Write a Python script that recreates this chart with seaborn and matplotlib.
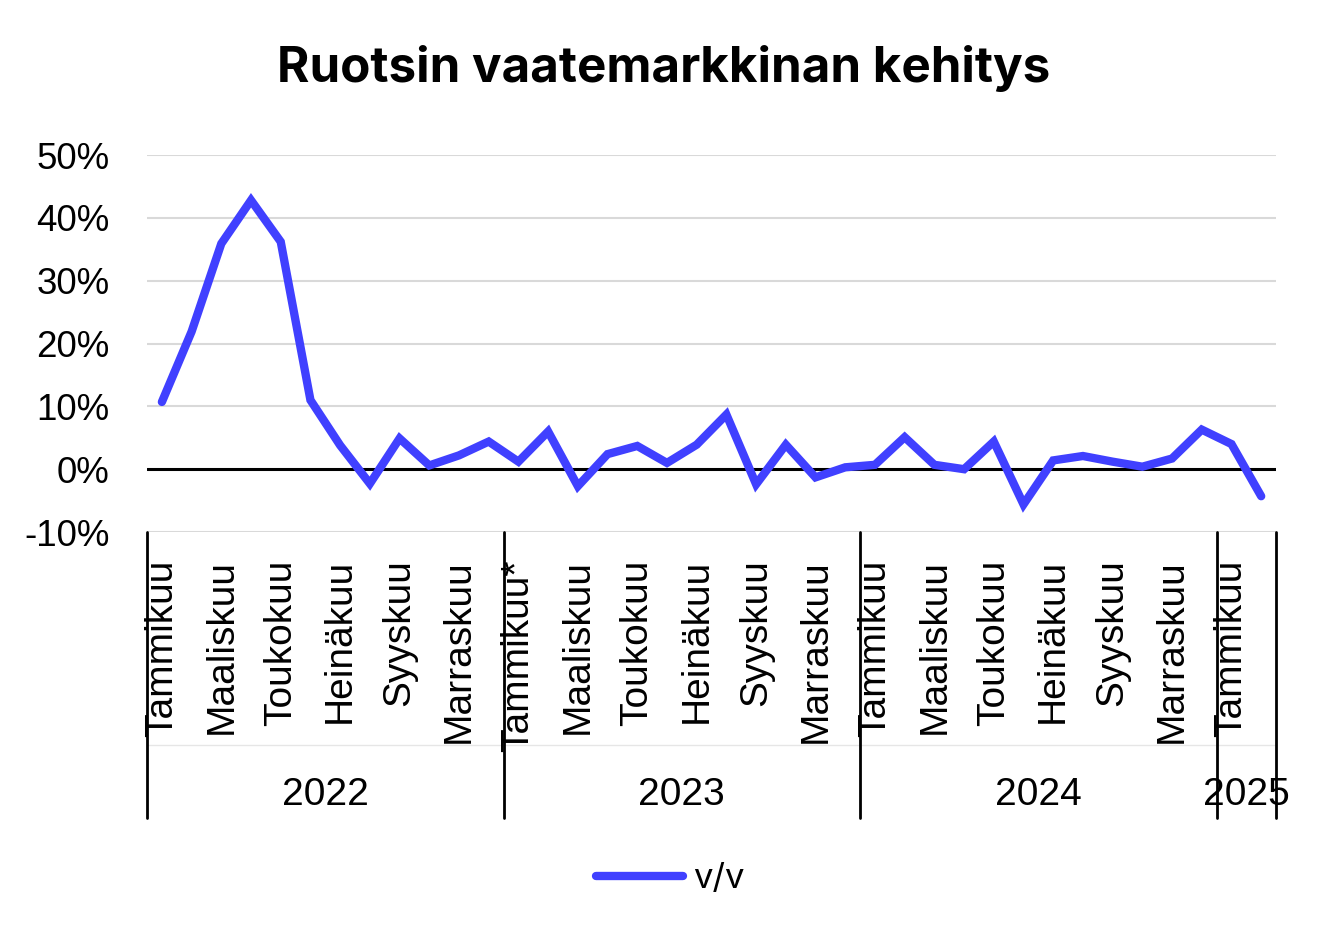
import numpy as np
import pandas as pd
import matplotlib
matplotlib.use("Agg")
import matplotlib.pyplot as plt
import matplotlib.transforms as mtransforms
import seaborn as sns

# monthly y/y change, Jan 2022 .. Feb 2025
yoy_2022 = [10.7, 21.9, 35.9, 42.8, 36.2, 11.0, 3.8, -2.3, 4.9, 0.6, 2.2, 4.4]
yoy_2023 = [1.2, 6.0, -2.7, 2.4, 3.7, 1.0, 3.9, 8.7, -2.4, 3.9, -1.3, 0.3]
yoy_2024 = [0.7, 5.1, 0.7, 0.0, 4.4, -5.6, 1.4, 2.1, 1.2, 0.4, 1.7, 6.3]
yoy_2025 = [4.0, -4.3]

years = ["2022", "2023", "2024", "2025"]
month_labels = ["Tammikuu", "", "Maaliskuu", "", "Toukokuu", "", "Heinäkuu", "",
                "Syyskuu", "", "Marraskuu", ""]
y_ticks = [-10, 0, 10, 20, 30, 40, 50]

series = [yoy_2022, yoy_2023, yoy_2024, yoy_2025]
values = sum(series, [])
df = pd.DataFrame({"idx": np.arange(len(values)), "v/v": values})

sns.set_style("white")
plt.rcParams["font.family"] = ["Liberation Sans", "DejaVu Sans"]
plt.rcParams["text.color"] = "black"
plt.rcParams["ytick.color"] = "black"

fig = plt.figure(figsize=(13.27, 9.43), dpi=100)
ax = fig.add_axes([0.1108, 0.4358, 0.8508, 0.3998])

sns.lineplot(data=df, x="idx", y="v/v", ax=ax, color="#4040ff", linewidth=6,
             label="v/v", solid_capstyle="round", solid_joinstyle="miter", zorder=3)

ax.set_xlim(-0.5, len(values) - 0.5)
ax.set_ylim(-10, 50)
ax.set_yticks(y_ticks)
ax.set_yticklabels([f"{t}%" for t in y_ticks], fontsize=26.5)
ax.tick_params(axis="y", length=0, pad=27)
ax.set_xticks([])
ax.set_xlabel("")
ax.set_ylabel("")
for t in y_ticks:
    if t == 0:
        ax.axhline(0, color="black", lw=2.2, zorder=2)
    else:
        ax.axhline(t, color="#d9d9d9", lw=1.5, zorder=1)
for s in ax.spines.values():
    s.set_visible(False)

# hierarchical category axis
trans = mtransforms.blended_transform_factory(ax.transData, ax.transAxes)
start = 0
bounds = [-0.5]
for yi, ys in enumerate(series):
    n = len(ys)
    for m in range(n):
        lab = month_labels[m]
        if lab:
            if yi == 1 and m == 0:
                lab = lab + "*"
            ax.text(start + m, -0.072, lab, rotation=90, ha="center", va="top",
                    fontsize=28, transform=trans)
    ax.text(start + (n - 1) / 2, -0.698, years[yi], ha="center", va="center",
            fontsize=28, transform=trans)
    start += n
    bounds.append(start - 0.5)

ax.plot([-0.5, len(values) - 0.5], [-0.565, -0.565], color="#e6e6e6", lw=1,
        transform=trans, clip_on=False)
for b in bounds:
    ax.plot([b, b], [0, -0.759], color="black", lw=2, transform=trans, clip_on=False)

fig.text(0.5, 0.927, "Ruotsin vaatemarkkinan kehitys", ha="center", va="center",
         fontsize=35.5, fontweight="bold", family=["Inter", "DejaVu Sans"])

ax.legend(loc="center", bbox_to_anchor=(0.505, 0.068), bbox_transform=fig.transFigure,
          frameon=False, handlelength=2.5, handletextpad=0.3,
          prop={"family": ["Inter", "DejaVu Sans"], "size": 25})

fig.savefig("out.png", dpi=100)
